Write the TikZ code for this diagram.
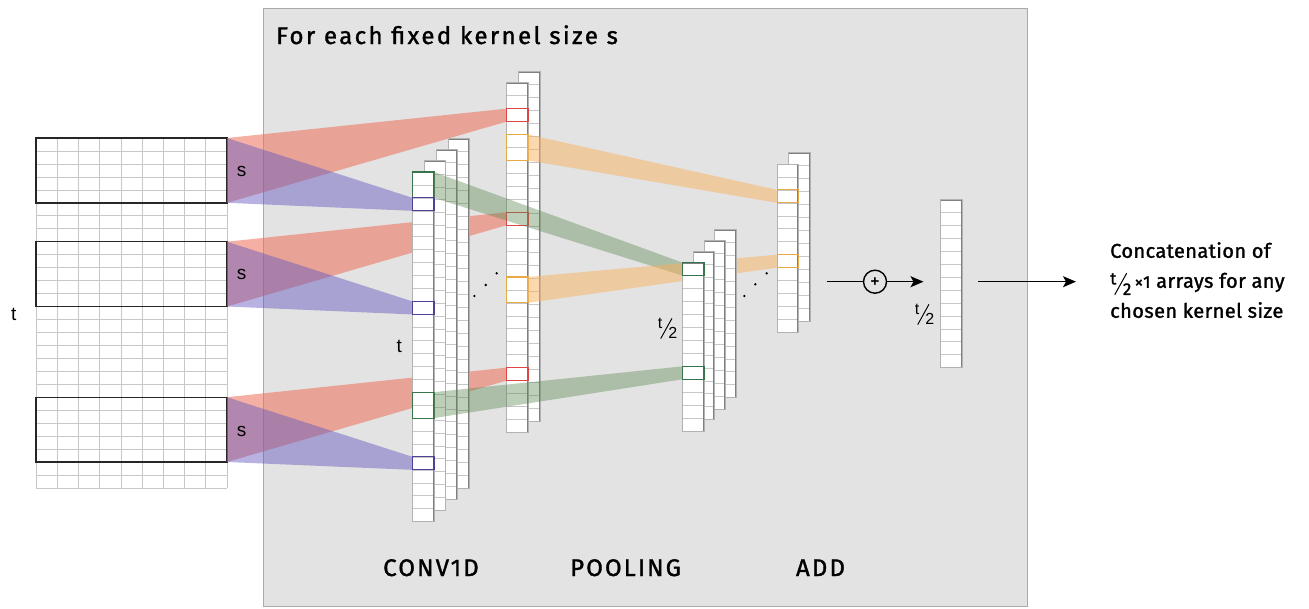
\documentclass[tikz,border=0pt]{standalone}
\usepackage{fontspec}
\setmainfont{Liberation Sans}
\newfontfamily\dinfont[FakeBold=1.4,LetterSpace=10]{Fira Sans}
\newfontfamily\dinnote[FakeBold=1.4,LetterSpace=2]{Fira Sans}
\newfontfamily\dinspaced[FakeBold=1.4,LetterSpace=9]{Fira Sans}
\usetikzlibrary{arrows.meta}

\definecolor{panelfill}{RGB}{227,227,227}
\definecolor{panelline}{RGB}{170,170,170}
\definecolor{fanred}{RGB}{238,112,88}
\definecolor{fanblue}{RGB}{95,85,190}
\definecolor{fangreen}{RGB}{90,135,80}
\definecolor{fanorange}{RGB}{248,178,95}
\definecolor{hlred}{RGB}{222,70,70}
\definecolor{hlblue}{RGB}{75,65,150}
\definecolor{hlgreen}{RGB}{55,115,75}
\definecolor{hlorange}{RGB}{232,170,70}

% t over 2 written as a slanted fraction
\newcommand{\tovertwo}{\raisebox{0.62em}{t}\kern-0.12em\rotatebox{61}{\rule{1.45em}{0.06em}}\kern-0.25em 2}

\pgfdeclarelayer{panel}
\pgfdeclarelayer{fanlow}
\pgfdeclarelayer{convlayer}
\pgfdeclarelayer{fanhigh}
\pgfsetlayers{panel,fanlow,convlayer,fanhigh,main}

\tikzset{
  gridline/.style={draw=black!22, line width=0.7pt},
  cellline/.style={draw=black!22, line width=0.6pt},
  col/.style={draw=black!30, fill=white, line width=0.9pt,
    minimum width=21.3pt, minimum height=#1*12.95pt,
    inner sep=0pt, outer sep=0pt, anchor=north west,
    path picture={\pgfmathtruncatemacro\nlast{#1-1}%
      \foreach \k in {1,...,\nlast}{%
        \draw[cellline] ([yshift=-\k*12.95pt]path picture bounding box.north west)
          -- ([yshift=-\k*12.95pt]path picture bounding box.north east);}
      \draw[black!50, line width=2.4pt] (path picture bounding box.north west)
          -- (path picture bounding box.north east)
          -- (path picture bounding box.south east);}},
  inbox/.style={draw=black!85, line width=1.4pt, minimum width=191pt,
    minimum height=64.8pt, inner sep=0pt, outer sep=0pt, anchor=north west},
  hl/.style={draw=#1, line width=1.1pt, minimum width=21.3pt,
    minimum height=12.95pt, inner sep=0pt, outer sep=0pt, anchor=north west},
  hltwo/.style={hl=#1, minimum height=25.9pt},
  fanR/.style={fill=fanred, fill opacity=0.55},
  fanB/.style={fill=fanblue, fill opacity=0.45},
  fanG/.style={fill=fangreen, fill opacity=0.4},
  fanO/.style={fill=fanorange, fill opacity=0.5},
  lbl/.style={font=\fontsize{19}{19}\selectfont, inner sep=0pt},
  frac/.style={font=\fontsize{16}{16}\selectfont, inner sep=0pt},
  stage/.style={font=\dinspaced\fontsize{24}{24}\selectfont, anchor=base, inner sep=0pt},
  flow/.style={line width=1.4pt},
  dot/.style={fill=black},
}

\begin{document}
\begin{tikzpicture}[x=1pt,y=-1pt]
\useasboundingbox (0,0) rectangle (1309,608);

% ---------- panel and input matrix ----------
\begin{pgfonlayer}{panel}
  \node[draw=panelline, fill=panelfill, line width=1.3pt, minimum width=764pt,
        minimum height=598pt, inner sep=0pt, anchor=north west] (panel) at (263,8) {};
  \fill[white] (36,138) rectangle (227,488);
  \foreach \i in {0,...,9}
    \draw[gridline] (36+\i*21.222,138) -- (36+\i*21.222,488);
  \foreach \j in {0,...,27}
    \draw[gridline] (36,138+\j*12.963) -- (227,138+\j*12.963);
  \node[inbox] (ib1) at (36,138) {};
  \node[inbox] (ib2) at (36,241.7) {};
  \node[inbox] (ib3) at (36,397.2) {};
\end{pgfonlayer}

% ---------- convolution outputs ----------
\begin{pgfonlayer}{convlayer}
  \node[col=27] (cv4) at (448.1,138.7) {};
  \node[col=27] (cv3) at (436.3,149.8) {};
  \node[col=27] (cv2) at (424.5,160.9) {};
  \node[col=27] (cv1) at (412.7,172) {};
  \node[hltwo=hlgreen] (g1) at (cv1.north west) {};
  \node[hl=hlblue] (b1) at ([yshift=-2*12.95pt]cv1.north west) {};
  \node[hl=hlblue] (b2) at ([yshift=-10*12.95pt]cv1.north west) {};
  \node[hltwo=hlgreen] (g2) at ([yshift=-17*12.95pt]cv1.north west) {};
  \node[hl=hlblue] (b3) at ([yshift=-22*12.95pt]cv1.north west) {};

  \node[col=27] (kk2) at (518.7,71.3) {};
  \node[col=27] (kk1) at (506.7,82.7) {};
  \node[hl=hlred] (r1) at ([yshift=-2*12.95pt]kk1.north west) {};
  \node[hltwo=hlorange] (o1) at ([yshift=-4*12.95pt]kk1.north west) {};
  \node[hl=hlred] (r2) at ([yshift=-10*12.95pt]kk1.north west) {};
  \node[hltwo=hlorange] (o2) at ([yshift=-15*12.95pt]kk1.north west) {};
  \node[hl=hlred] (r3) at ([yshift=-22*12.95pt]kk1.north west) {};
\end{pgfonlayer}

% ---------- pooling outputs ----------
\node[col=13] (pl4) at (714.7,229.3) {};
\node[col=13] (pl3) at (704,240.7) {};
\node[col=13] (pl2) at (693.3,251.3) {};
\node[col=13] (pl1) at (682.7,262.7) {};
\node[hl=hlgreen] (p1) at (pl1.north west) {};
\node[hl=hlgreen] (p2) at ([yshift=-8*12.95pt]pl1.north west) {};

% ---------- added outputs ----------
\node[col=13] (ad2) at (788.7,152.7) {};
\node[col=13] (ad1) at (777.3,164) {};
\node[hl=hlorange] (a1) at ([yshift=-2*12.95pt]ad1.north west) {};
\node[hl=hlorange] (a2) at ([yshift=-7*12.95pt]ad1.north west) {};

% ---------- result ----------
\node[col=13] (res) at (940.7,199.3) {};

% ---------- receptive fields ----------
\begin{pgfonlayer}{fanlow}
  \foreach \s/\t in {ib1/r1, ib2/r2, ib3/r3}
    \fill[fanR] (\s.north east) -- (\t.north west) -- (\t.south west) -- (\s.south east) -- cycle;
  \foreach \s/\t in {ib1/b1, ib2/b2, ib3/b3}
    \fill[fanB] (\s.north east) -- (\t.north west) -- (\t.south west) -- (\s.south east) -- cycle;
\end{pgfonlayer}
\begin{pgfonlayer}{fanhigh}
  \foreach \s/\t in {g1/p1, g2/p2}
    \fill[fanG] (\s.north east) -- (\t.north west) -- (\t.south west) -- (\s.south east) -- cycle;
  \foreach \s/\t in {o1/a1, o2/a2}
    \fill[fanO] (\s.north east) -- (\t.north west) -- (\t.south west) -- (\s.south east) -- cycle;
\end{pgfonlayer}

% ---------- ellipses between stacks ----------
\foreach \x/\y in {474.3/296, 485.7/285, 496.7/273.3, 744.3/296, 755.3/284.3, 766.7/273.3}
  \fill[dot] (\x,\y) circle (1.3);

% ---------- sum and concatenation arrows ----------
\coordinate (sumin) at (826.7,281.7);
\coordinate (sumout) at (923.5,281.7);
\node[circle, draw, line width=1.4pt, minimum size=23pt, inner sep=0pt,
      font=\fontsize{15}{15}\bfseries\selectfont] (plus) at (875,281.7) {+};
\draw[flow] (sumin) -- (plus);
\draw[flow, -{Stealth[length=13pt, width=11pt, inset=3pt]}] (plus) -- (sumout);
\coordinate (catin) at (978,281.7);
\coordinate (catout) at (1076,281.7);
\draw[flow, -{Stealth[length=13pt, width=11pt, inset=3pt]}] (catin) -- (catout);

% ---------- labels ----------
\node[anchor=base west, inner sep=0pt, font=\dinfont\fontsize{24}{24}\selectfont] (title) at (276,44) {For each fixed kernel size s};
\node[lbl] (tin) at (13.7,314) {t};
\node[lbl] (s1) at (241.7,171) {s};
\node[lbl] (s2) at (241.7,274) {s};
\node[lbl] (s3) at (241.7,431) {s};
\node[lbl] (tconv) at (399.3,346.7) {t};
\node[frac] (tpool) at (667.5,328.5) {\tovertwo};
\node[frac] (tres) at (924.5,314.5) {\tovertwo};
\node[stage] (lconv) at (431,576) {CONV1D};
\node[stage] (lpool) at (625.5,576) {POOLING};
\node[stage] (ladd) at (820.5,576) {ADD};
\node[anchor=north west, align=left, inner sep=0pt,
      font=\dinnote\fontsize{20}{30}\selectfont] (concat) at (1110,242)
  {Concatenation of\\
   {\fontsize{17}{17}\selectfont\raisebox{-0.42em}{\tovertwo}}\,{\fontsize{17}{17}\selectfont ×1} arrays for any\\
   chosen kernel size};
\end{tikzpicture}
\end{document}
